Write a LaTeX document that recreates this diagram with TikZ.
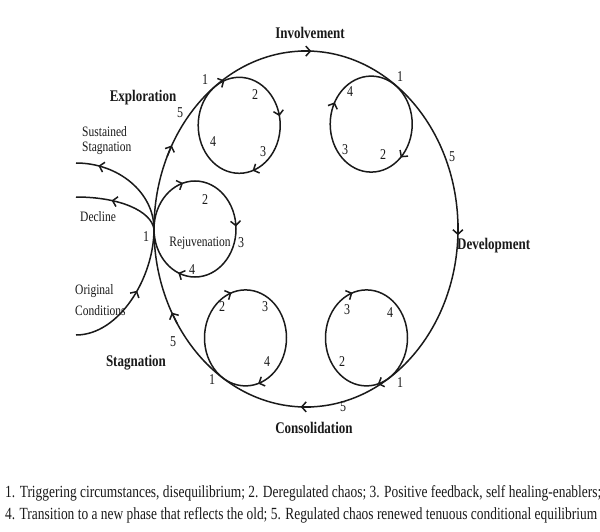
\documentclass[tikz,border=0pt]{standalone}
\usepackage{fontspec}
\setmainfont{Liberation Serif}
\usetikzlibrary{arrows.meta,decorations.markings,calc}
\definecolor{ink}{HTML}{1A1A1A}
\newcommand\vst[1]{\scalebox{1}[1.25]{#1}}
\tikzset{
  curve/.style={draw=ink, line width=1.5pt},
  tip/.tip={Straight Barb[length=4.5pt,width=10pt]},
  arr/.style={draw=ink, line width=1.5pt, -tip},
  phase/.style={font=\fontsize{13}{15}\selectfont\bfseries, text=ink, inner sep=0},
  num/.style={font=\fontsize{12}{14}\selectfont, text=ink, inner sep=0},
  lbl/.style={font=\fontsize{11.5}{13}\selectfont, text=ink, inner sep=0},
  midarr/.style={postaction={decorate, decoration={markings, mark=at position #1 with {\arrow[line width=1.5pt]{tip}}}}},
}
% arrow on an ellipse: centre x, centre y, x radius, y radius, angle (screen clockwise from right)
\newcommand\arrowon[5]{\draw[arr] ({#1+#3*cos(#5-2)},{#2+#4*sin(#5-2)}) -- ({#1+#3*cos(#5+2)},{#2+#4*sin(#5+2)});}
\begin{document}
\begin{tikzpicture}[x=1pt,y=-1pt]
\useasboundingbox (0,0) rectangle (600,532);
\fill[white] (0,0) rectangle (600,532);

% key points
\coordinate (C) at (306,229);
\coordinate (P) at (154,229);
\coordinate (TL) at (239.2,125.3);
\coordinate (TR) at (371.2,124.1);
\coordinate (BL) at (245.5,337.9);
\coordinate (BR) at (366.5,337.9);
\coordinate (RJ) at (195,229);
\coordinate (SSend) at (76,163);
\coordinate (DEend) at (76,197);
\coordinate (OCstart) at (76,335);

% big cycle
\draw[curve] (C) ellipse[x radius=152pt, y radius=178pt];
\arrowon{306}{229}{152}{178}{270}
\arrowon{306}{229}{152}{178}{0}
\arrowon{306}{229}{152}{178}{90}
\arrowon{306}{229}{152}{178}{150}
\arrowon{306}{229}{152}{178}{206}

% small loops
\draw[curve] (TL) ellipse[x radius=41pt, y radius=48pt];
\arrowon{239.2}{125.3}{41}{48}{247}
\arrowon{239.2}{125.3}{41}{48}{347}
\arrowon{239.2}{125.3}{41}{48}{69}

\draw[curve] (TR) ellipse[x radius=41pt, y radius=48pt];
\arrowon{371.2}{124.1}{41}{48}{205}
\arrowon{371.2}{124.1}{41}{48}{42}

\draw[curve] (RJ) ellipse[x radius=41pt, y radius=48pt];
\arrowon{195}{229}{41}{48}{251}
\arrowon{195}{229}{41}{48}{355}
\arrowon{195}{229}{41}{48}{112}

\draw[curve] (BL) ellipse[x radius=41pt, y radius=48pt];
\arrowon{245.5}{337.9}{41}{48}{248}
\arrowon{245.5}{337.9}{41}{48}{70}

\draw[curve] (BR) ellipse[x radius=41pt, y radius=48pt];
\arrowon{366.5}{337.9}{41}{48}{248}
\arrowon{366.5}{337.9}{41}{48}{72}

% branches at the left
\draw[curve, midarr=0.8] (P) .. controls (154,193) and (119,163) .. (SSend);
\draw[curve, midarr=0.6] (P) .. controls (151,211) and (120,197) .. (DEend);
\draw[curve, midarr=0.55] (OCstart) .. controls (119,335) and (154,278) .. (P);

% phase labels
\node[phase] (inv) at (310,33) {\vst{Involvement}};
\node[phase] (exp) at (143,98) {\vst{Exploration}};
\node[phase, anchor=west] (dev) at (457,246) {\vst{Development}};
\node[phase] (con) at (314,428) {\vst{Consolidation}};
\node[phase] (sta) at (136,363) {\vst{Stagnation}};

% side labels
\node[lbl, anchor=west] (ss1) at (82,132) {\vst{Sustained}};
\node[lbl, anchor=west] (ss2) at (82,148) {\vst{Stagnation}};
\node[lbl, anchor=west] (dec) at (80,217) {\vst{Decline}};
\node[lbl, anchor=west] (oc1) at (75,291) {\vst{Original}};
\node[lbl, anchor=west] (oc2) at (75,311) {\vst{Conditions}};
\node[lbl] (rej) at (200,243) {\vst{Rejuvenation}};

% numbers
\node[num] (tl1) at (205,80) {\vst{1}};
\node[num] (tl2) at (255,95) {\vst{2}};
\node[num] (tl4) at (213,142) {\vst{4}};
\node[num] (tl3) at (263,152) {\vst{3}};
\node[num] (e5) at (180,113) {\vst{5}};
\node[num] (tr1) at (400,77) {\vst{1}};
\node[num] (tr4) at (350,92) {\vst{4}};
\node[num] (tr3) at (345,150) {\vst{3}};
\node[num] (tr2) at (383,155) {\vst{2}};
\node[num] (d5) at (452,157) {\vst{5}};
\node[num] (rj1) at (146,237) {\vst{1}};
\node[num] (rj2) at (205,200) {\vst{2}};
\node[num] (rj3) at (241,243) {\vst{3}};
\node[num] (rj4) at (192,270) {\vst{4}};
\node[num] (bl2) at (222,307) {\vst{2}};
\node[num] (bl3) at (265,307) {\vst{3}};
\node[num] (bl4) at (267,362) {\vst{4}};
\node[num] (bl1) at (212,380) {\vst{1}};
\node[num] (s5) at (173,342) {\vst{5}};
\node[num] (br3) at (347,310) {\vst{3}};
\node[num] (br4) at (390,313) {\vst{4}};
\node[num] (br2) at (342,362) {\vst{2}};
\node[num] (br1) at (400,383) {\vst{1}};
\node[num] (c5) at (343,407) {\vst{5}};

% caption
\node[anchor=west, inner sep=0, text=ink] (cap1) at (5,493) {\resizebox{596pt}{12pt}{1. Triggering circumstances, disequilibrium; 2. Deregulated chaos; 3. Positive feedback, self healing-enablers;}};
\node[anchor=west, inner sep=0, text=ink] (cap2) at (5,515) {\resizebox{592pt}{12pt}{4. Transition to a new phase that reflects the old; 5. Regulated chaos renewed tenuous conditional equilibrium}};
\end{tikzpicture}
\end{document}
